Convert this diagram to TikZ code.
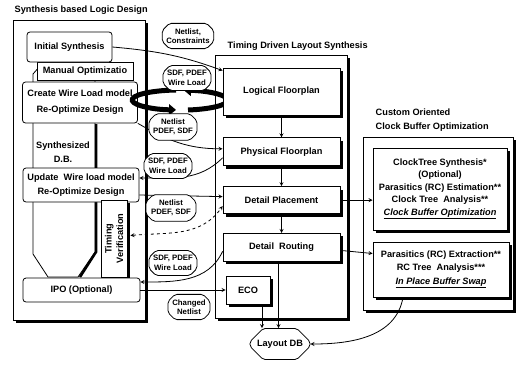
\documentclass[tikz,border=0pt]{standalone}
\usepackage{fontspec}
\setmainfont{Liberation Sans}
\usetikzlibrary{positioning,shapes.misc,shadows,arrows.meta}

\begin{document}
\begin{tikzpicture}[>=stealth, x=1pt, y=-1pt, line width=0.8pt,
  font=\bfseries\fontsize{9.2}{13.5}\selectfont,
  box/.style={draw, fill=white, align=center, inner sep=0pt},
  blk/.style={box, drop shadow={shadow xshift=3pt, shadow yshift=-3pt, opacity=1, fill=black}},
  rblk/.style={box, rounded corners=3pt},
  frame/.style={draw, fill=white, inner sep=0pt, drop shadow={shadow xshift=3pt, shadow yshift=-3pt, opacity=1, fill=black}},
  tag/.style={draw, fill=white, chamfered rectangle, chamfered rectangle xsep=3pt,
    chamfered rectangle ysep=4pt, rounded corners=2pt, align=center, inner sep=1pt,
    font=\bfseries\fontsize{7.8}{9.5}\selectfont},
  swap/.style={line width=5pt, -{Triangle[length=7pt,width=11pt]}}]

  \useasboundingbox (0,0) rectangle (526,364);

  % Cornici
  \node[frame, minimum width=132, minimum height=300] (L) at (79,170) {};
  \node[frame, minimum width=132, minimum height=263] (M) at (281,186.5) {};
  \node[frame, minimum width=150, minimum height=173] (R) at (438,223.5) {};

  % Titoli
  \node[anchor=west] (tL) at (11,10) {Synthesis based Logic Design};
  \node[anchor=west] (tM) at (224,46) {Timing Driven Layout Synthesis};
  \node[anchor=west, align=left] (tR) at (372,120) {Custom Oriented\\Clock Buffer Optimization};

  % Database di sintesi
  \draw[fill=white] (33,74) -- (40,66) -- (95,66) -- (95,252) -- (78,277) -- (48,277) -- (33,254) -- cycle;
  \draw[line width=2.5pt] (96,124) -- (96,252) -- (80,277);
  \node[align=center] (SDB) at (63,152) {Synthesized\\D.B.};

  % Blocchi logici
  \node[box, minimum width=96, minimum height=18] (MO) at (85,71) {Manual Optimizatio};
  \node[rblk, minimum width=85, minimum height=30] (IS) at (69.5,47) {Initial Synthesis};
  \node[rblk, minimum width=115, minimum height=41, font=\bfseries\fontsize{9.2}{16}\selectfont] (CW) at (80,102.5) {Create Wire Load model\\Re-Optimize Design};
  \node[rblk, minimum width=116, minimum height=34] (UW) at (81,185) {Update\ \ Wire load model\\Re-Optimize Design};
  \node[blk, rotate=90, minimum width=77, minimum height=26, font=\bfseries\fontsize{9.2}{11.5}\selectfont] (TV) at (114,238.5) {Timing\\Verification};
  \node[rblk, minimum width=117, minimum height=24] (IPO) at (81.5,290) {IPO (Optional)};

  % Anello di scambio
  \draw[swap] (176,90) arc[start angle=265, end angle=95, x radius=48, y radius=10];
  \draw[swap] (188,110) arc[start angle=80, end angle=-85, x radius=48, y radius=10];

  % Blocchi di layout
  \node[blk, minimum width=117, minimum height=47] (LF) at (281.5,91.5) {Logical Floorplan};
  \node[blk, minimum width=117, minimum height=28, below=22pt of LF] (PF) {Physical Floorplan};
  \node[blk, minimum width=117, minimum height=27, below=20pt of PF] (DP) {Detail Placement};
  \node[blk, minimum width=117, minimum height=28, below=19pt of DP] (DR) {Detail\ \ Routing};
  \node[blk, minimum width=44, minimum height=28] (ECO) at (248,290) {ECO};
  \node[tag, chamfered rectangle xsep=8pt, chamfered rectangle ysep=8pt, minimum width=60, minimum height=31,
    font=\bfseries\fontsize{9.2}{11}\selectfont] (LDB) at (280,344) {Layout DB};

  % Ottimizzazione del clock
  \node[blk, minimum width=134, minimum height=82, font=\bfseries\fontsize{9.2}{12.5}\selectfont] (CT) at (440,189)
    {ClockTree Synthesis*\\(Optional)\\Parasitics (RC) Estimation**\\Clock Tree\ \ Analysis**\\\underline{\itshape Clock Buffer Optimization}};
  \node[blk, minimum width=136, minimum height=55] (RC) at (441,269.5)
    {Parasitics (RC) Extraction**\\RC Tree\ \ Analysis***\\\underline{\itshape In Place Buffer Swap}};

  % Collegamenti
  \path[->]
    (IS.east) edge[out=-5, in=160] ([yshift=-3pt]LF.north west)
    (CW.south east) edge[out=-30, in=180] ([yshift=3pt]PF.west)
    ([yshift=-6pt]PF.west) edge[out=-135, in=0] ([yshift=7pt]UW.east)
    ([yshift=-10pt]UW.east) edge ([yshift=3.5pt]DP.west)
    ([xshift=3pt, yshift=3pt]TV.south) edge[<->, dashed, out=5, in=-125] ([yshift=-6pt]DP.west)
    ([yshift=-4pt]DR.west) edge[out=-115, in=0] ([yshift=8pt]IPO.east)
    (IPO.east) edge (ECO.west)

    (LF) edge (PF)
    (PF) edge (DP)
    (DP) edge (DR)
    ([xshift=-3pt]DR.south) edge ([xshift=-3pt]DR.south |- LDB.north)
    ([xshift=14pt]ECO.south) edge ([xshift=14pt]ECO.south |- LDB.north)

    (DP.east) edge (DP.east -| CT.west)
    ([yshift=-3pt]DR.east) edge ([yshift=16pt]RC.west)
    ([xshift=-38pt]RC.south) edge[out=-100, in=0] (LDB.east);

  % Etichette
  \node[tag, minimum width=50, minimum height=20] (bNC) at (188,36) {Netlist,\\Constraints};
  \node[tag, minimum width=46, minimum height=21] (bSW1) at (187,78) {SDF, PDEF\\Wire Load};
  \node[tag, minimum width=46, minimum height=25] (bNP1) at (173,127) {Netlist\\PDEF, SDF};
  \node[tag, minimum width=44, minimum height=21] (bSW2) at (168,166) {SDF, PDEF\\Wire Load};
  \node[tag, minimum width=50, minimum height=21] (bNP2) at (171,208) {Netlist\\PDEF, SDF};
  \node[tag, minimum width=44, minimum height=21] (bSW3) at (173,263) {SDF, PDEF\\Wire Load};
  \node[tag, minimum width=42, minimum height=21] (bCN) at (189,307) {Changed\\Netlist};

\end{tikzpicture}
\end{document}
